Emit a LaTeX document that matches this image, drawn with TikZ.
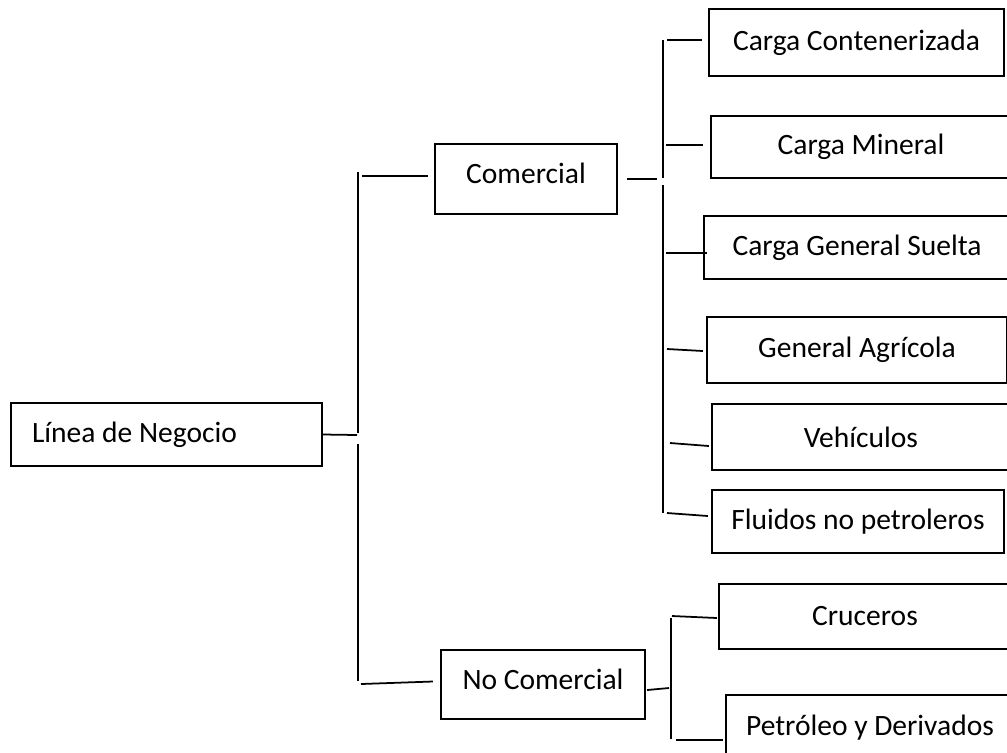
\documentclass[tikz,border=0pt]{standalone}
\usepackage{fontspec}
\setmainfont{Carlito}
\usepackage{tikz}
\usetikzlibrary{calc}

\begin{document}
\begin{tikzpicture}[x=0.02cm, y=-0.02cm,
    font=\fontsize{16.8}{20}\selectfont,
    box/.style={shape=rectangle, draw, line width=1.3pt, inner sep=0pt},
    conn/.style={line width=1pt}]
    \clip (0,0) rectangle (1007,752);

    \node[name=root, box, align=flush left, text width=5.38cm, inner xsep=0.42cm,
      minimum height=1.26cm] at (166.5,434.5) {Línea de Negocio};

    \node[name=com, box, minimum width=3.64cm, minimum height=1.40cm,
      text depth=0.24cm] at (526,179) {Comercial};
    \node[name=nocom, box, minimum width=4.08cm, minimum height=1.38cm,
      text depth=0.2cm] at (543,684.5) {No Comercial};

    \node[name=cont, box, minimum width=5.90cm, minimum height=1.34cm] at (856.5,42.5) {Carga Contenerizada};
    \node[name=mine, box, minimum width=6.00cm, minimum height=1.24cm] at (861,147) {Carga Mineral};
    \node[name=suel, box, minimum width=6.12cm, minimum height=1.26cm] at (857,247.5) {Carga General Suelta};
    \node[name=agri, box, minimum width=6.00cm, minimum height=1.32cm] at (857,350) {General Agrícola};
    \node[name=vehi, box, minimum width=5.96cm, minimum height=1.32cm] at (861,437) {Vehículos};
    \node[name=flui, box, minimum width=5.84cm, minimum height=1.26cm] at (858,521.5) {Fluidos no petroleros};
    \node[name=cruc, box, minimum width=5.84cm, minimum height=1.30cm] at (865,616.5) {Cruceros};
    \node[name=petr, box, minimum width=5.76cm, minimum height=1.30cm] at (870,727.5) {Petróleo y Derivados};

    % first level
    \coordinate (r0) at (357,435);
    \coordinate (b0a) at (358,172);
    \coordinate (b0b) at (358,433);
    \coordinate (b0c) at (358,444);
    \coordinate (b0d) at (358,681);
    \coordinate (c0) at (362,176);
    \coordinate (n0) at (361,684);
    \draw[conn] (root.east) -- (r0);
    \draw[conn] (b0a) -- (b0b);
    \draw[conn] (b0c) -- (b0d);
    \draw[conn] (c0) -- ($(c0 -| com.west)+(-6,0)$);
    \draw[conn] (n0) -- ($(nocom.west)+(-7,-3)$);

    % comercial
    \coordinate (c1) at (657,179);
    \coordinate (b1a) at (663,40);
    \coordinate (b1b) at (663,178);
    \coordinate (b1c) at (663,185);
    \coordinate (b1d) at (663,513);
    \draw[conn] ($(com.east)+(9,0)$) -- (c1);
    \draw[conn] (b1a) -- (b1b);
    \draw[conn] (b1c) -- (b1d);
    \draw[conn] (667,40) -- ($(cont.west)+(-6,-2.5)$);
    \draw[conn] (666,145) -- ($(mine.west)+(-7,-2)$);
    \draw[conn] (666,253) -- ($(suel.west)+(4,5.5)$);
    \draw[conn] (667,349) -- ($(agri.west)+(-3,1)$);
    \draw[conn] (670,443) -- ($(vehi.west)+(-2,9)$);
    \draw[conn] (667,513) -- ($(flui.west)+(-3,-5.5)$);

    % no comercial
    \coordinate (n1) at (669,688);
    \coordinate (b2a) at (671,618);
    \coordinate (b2b) at (671,739);
    \draw[conn] ($(nocom.east)+(1,5.5)$) -- (n1);
    \draw[conn] (b2a) -- (b2b);
    \draw[conn] (672,616) -- ($(cruc.west)+(-1,1.5)$);
    \draw[conn] (676,740) -- ($(petr.west)+(-2,12.5)$);
\end{tikzpicture}
\end{document}
